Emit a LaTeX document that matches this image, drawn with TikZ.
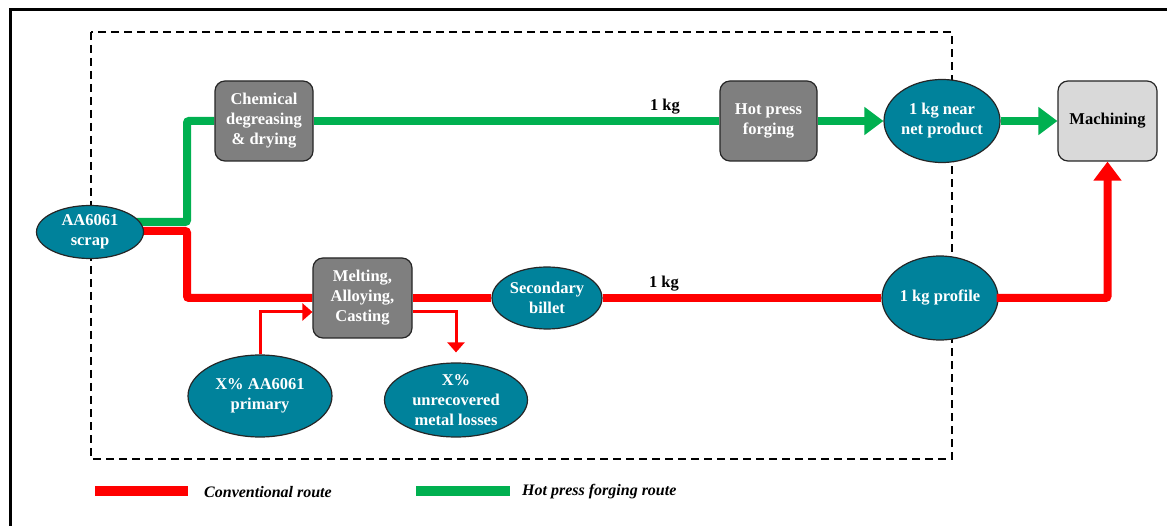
\documentclass[tikz,border=0pt]{standalone}
\usepackage{fontspec}
\setmainfont{Liberation Serif}
\usetikzlibrary{shapes.geometric,arrows.meta}
\pgfdeclarelayer{bg}
\pgfsetlayers{bg,main}
\definecolor{teal1}{RGB}{0,130,155}
\definecolor{boxgray}{RGB}{127,127,127}
\definecolor{lgray}{RGB}{217,217,217}
\definecolor{rred}{RGB}{255,0,0}
\definecolor{ggreen}{RGB}{0,176,80}
\tikzset{
  proc/.style={draw=black!85, line width=1.2pt, rounded corners=10pt, fill=boxgray, text=white,
    font=\fontsize{16.5}{20}\selectfont\bfseries, align=center, inner sep=0pt,
    minimum width=#1, minimum height=80pt},
  proc/.default=98pt,
  oval/.style={ellipse, draw=black!85, line width=1.2pt, fill=teal1, text=white,
    font=\fontsize{16.5}{20}\selectfont\bfseries, align=center, inner sep=0pt},
  groute/.style={draw=ggreen, line width=8pt, rounded corners=2pt},
  rroute/.style={draw=rred, line width=8pt, rounded corners=2pt},
  thinr/.style={draw=rred, line width=3pt, -{Triangle[width=17pt,length=10pt]}},
  bigtip/.style={-{Triangle[width=27pt,length=19pt]}},
  kglabel/.style={font=\fontsize{16.5}{20}\selectfont\bfseries, inner sep=0pt},
  legtext/.style={font=\fontsize{16}{19}\selectfont\bfseries\itshape, anchor=west, inner sep=0pt},
}
\begin{document}
\begin{tikzpicture}[x=1pt,y=-1pt]
\useasboundingbox (0,0) rectangle (1167,526);

% nodes
\node[oval, minimum width=107pt, minimum height=53pt] (scrap) at (90,232) {AA6061\\scrap};
\node[proc] (chem) at (264,121) {Chemical\\degreasing\\\& drying};
\node[proc=97pt] (hot) at (768.5,121) {Hot press\\forging};
\node[oval, minimum width=116pt, minimum height=83pt] (net) at (942,121) {1 kg near\\net product};
\node[proc=99pt, fill=lgray, text=black] (mach) at (1107.5,121) {Machining};
\node[proc=99pt] (melt) at (362.5,298) {Melting,\\Alloying,\\Casting};
\node[oval, minimum width=110pt, minimum height=62pt] (billet) at (547,298) {Secondary\\billet};
\node[oval, minimum width=116pt, minimum height=84pt] (profile) at (940,298) {1 kg profile};
\node[oval, minimum width=144pt, minimum height=82pt] (primary) at (260,396) {X\% AA6061\\primary};
\node[oval, minimum width=143pt, minimum height=74pt] (losses) at (456,400) {X\%\\unrecovered\\metal losses};

\node[kglabel] (kg1) at (665,107) {1 kg};
\node[kglabel] (kg2) at (664,284) {1 kg};

\coordinate (gturn) at (187,222);
\coordinate (rturn) at (187,231);

\begin{pgfonlayer}{bg}
\fill[white] (0,0) rectangle (1167,526);
\draw[line width=3pt] (10,526) -- (10,10) -- (1167,10);
\draw[line width=2.2pt, dash pattern=on 8pt off 5pt] (91,32) rectangle (952,459);
% green route
\draw[groute] ([yshift=10pt]scrap.center) -- (gturn) |- (chem.west);
\draw[groute] (chem.east) -- (hot.west);
% red route
\draw[rroute] ([yshift=1pt]scrap.center) -- (rturn) |- (melt.west);
\draw[rroute] (melt.east) -- (billet.west);
\draw[rroute] (billet.east) -- (profile.west);
\end{pgfonlayer}
\draw[groute, bigtip] (hot.east) -- (net.west);
\draw[groute, bigtip] (net.east) -- (mach.west);
\draw[rroute, bigtip] ([xshift=-2pt]profile.east) -| (mach.south);
\draw[thinr] (primary.north) |- ([yshift=-14pt]melt.west);
\draw[thinr] ([yshift=-14pt]melt.east) -| ([yshift=10pt]losses.north);

% legend
\coordinate (l1a) at (95,491);
\coordinate (l1b) at (188,491);
\coordinate (l2a) at (416,491);
\coordinate (l2b) at (510,491);
\draw[rred, line width=10pt] (l1a) -- (l1b);
\draw[ggreen, line width=10pt] (l2a) -- (l2b);
\node[legtext] (leg1) at (204,492) {Conventional route};
\node[legtext] (leg2) at (522,492) {Hot press forging route};
\end{tikzpicture}
\end{document}
